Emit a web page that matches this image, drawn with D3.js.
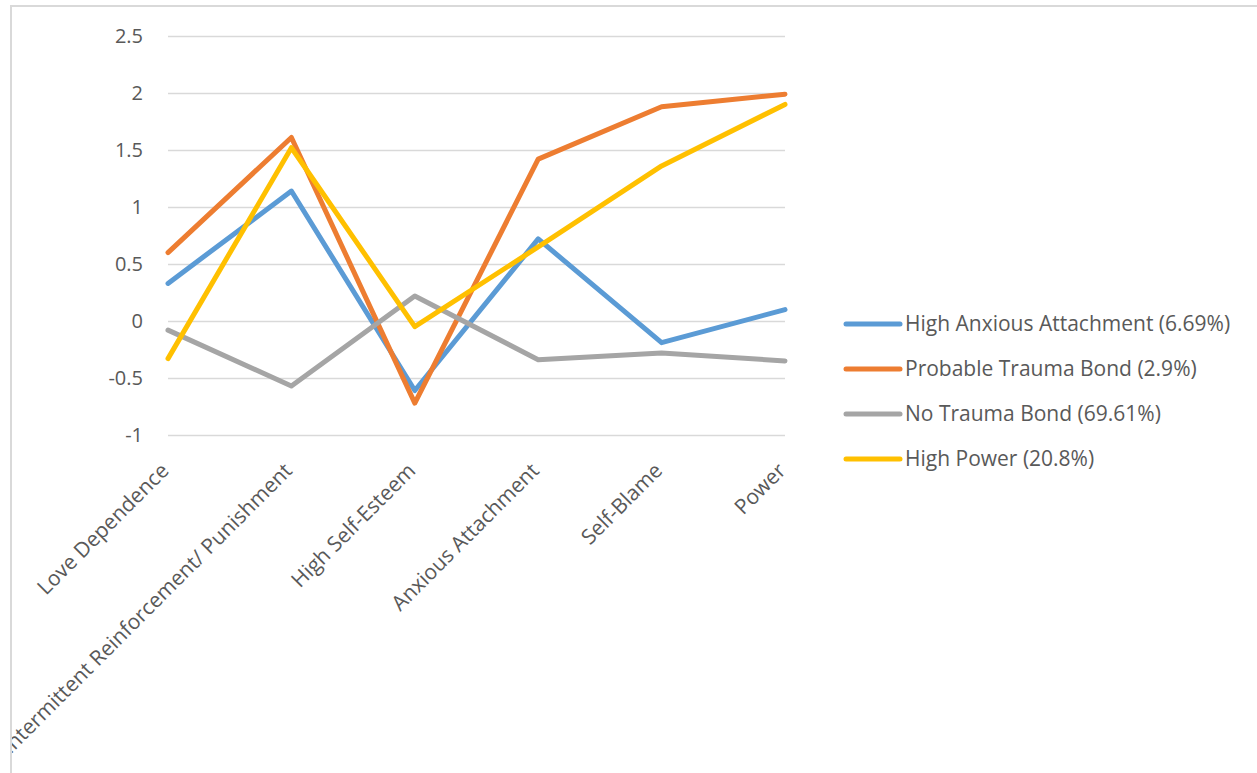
<!DOCTYPE html>
<html>
<head>
<meta charset="utf-8">
<script src="https://cdn.jsdelivr.net/npm/d3@7"></script>
<style>
  html, body { margin: 0; padding: 0; background: #fff; }
  svg { display: block; }
  text { font-family: "Open Sans", "Noto Sans", sans-serif; fill: #595959; }
</style>
</head>
<body>
<svg id="chart" width="1257" height="773"></svg>
<script>
const categories = ["Love Dependence", "Intermittent Reinforcement/ Punishment", "High Self-Esteem", "Anxious Attachment", "Self-Blame", "Power"];
const seriesNames = ["High Anxious Attachment (6.69%)", "Probable Trauma Bond (2.9%)", "No Trauma Bond (69.61%)", "High Power (20.8%)"];
const seriesColors = ["#5b9bd5", "#ed7d31", "#a5a5a5", "#ffc000"];
const highAnxious = [0.33, 1.14, -0.61, 0.72, -0.19, 0.10];
const traumaBond = [0.60, 1.61, -0.72, 1.42, 1.88, 1.99];
const noTraumaBond = [-0.08, -0.57, 0.22, -0.34, -0.28, -0.35];
const highPower = [-0.33, 1.52, -0.05, 0.65, 1.36, 1.90];
const yTicks = [-1, -0.5, 0, 0.5, 1, 1.5, 2, 2.5];

const seriesValues = [highAnxious, traumaBond, noTraumaBond, highPower];

const svg = d3.select("#chart");
const W = 1257, H = 773;

// chart border
svg.append("defs").append("clipPath").attr("id", "clipArea")
  .append("rect").attr("x", 12).attr("y", 6).attr("width", W - 12).attr("height", H - 6);
svg.append("path")
  .attr("d", `M11,${H} L11,6 L${W},6`)
  .attr("fill", "none").attr("stroke", "#d9d9d9").attr("stroke-width", 2);

const x = d3.scalePoint().domain(categories).range([168, 785]);
const y = d3.scaleLinear().domain([-1, 2.5]).range([435, 36]);

const g = svg.append("g").attr("clip-path", "url(#clipArea)");

// gridlines
const yAxis = d3.axisLeft(y).tickValues(yTicks).tickSize(-(785 - 168)).tickPadding(25)
  .tickFormat(d => String(d));
const yg = g.append("g").attr("transform", "translate(168,0)").call(yAxis);
yg.select(".domain").remove();
yg.selectAll(".tick line").attr("stroke", "#d9d9d9").attr("stroke-width", 1.5);
yg.selectAll(".tick text").attr("font-size", 20).attr("fill", "#595959")
  .style("font-family", "'Open Sans', sans-serif");

// category labels
const xg = g.append("g");
xg.selectAll("text").data(categories).join("text")
  .attr("text-anchor", "end")
  .attr("font-size", 21)
  .attr("transform", d => `translate(${x(d) + 2},${472}) rotate(-45)`)
  .text(d => d);

// lines
const line = d3.line().x((d, i) => x(categories[i])).y(d => y(d));
g.selectAll("path.series").data(seriesValues).join("path")
  .attr("class", "series")
  .attr("d", d => line(d))
  .attr("fill", "none")
  .attr("stroke", (d, i) => seriesColors[i])
  .attr("stroke-width", 5)
  .attr("stroke-linejoin", "round")
  .attr("stroke-linecap", "round");

// legend
const legend = svg.append("g");
const lg = legend.selectAll("g").data(seriesNames).join("g")
  .attr("transform", (d, i) => `translate(846,${324 + i * 45})`);
lg.append("line").attr("x1", 0).attr("x2", 54).attr("y1", 0).attr("y2", 0)
  .attr("stroke", (d, i) => seriesColors[i]).attr("stroke-width", 5).attr("stroke-linecap", "round");
lg.append("text").attr("x", 59).attr("y", 0).attr("dy", "0.35em")
  .attr("font-size", 21).text(d => d);
</script>
</body>
</html>
